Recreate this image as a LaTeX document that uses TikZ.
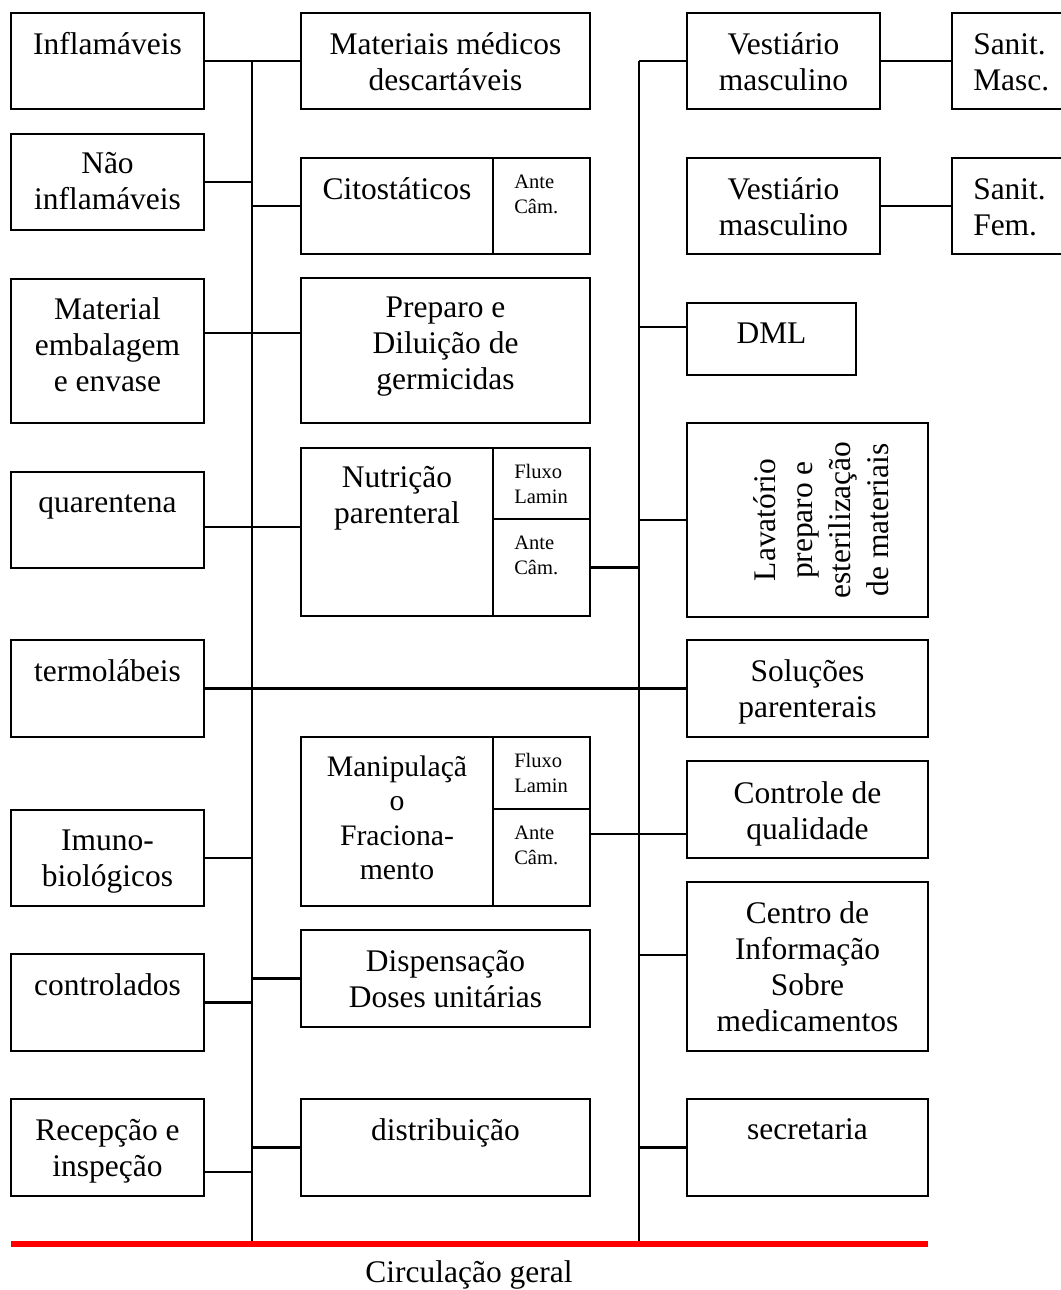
\documentclass[tikz,border=0pt]{standalone}
\usepackage{fontspec}
\setmainfont{Liberation Serif}
\usetikzlibrary{calc}

% one drawing unit = one pixel of the layout grid
\def\pxu{0.75pt}
% fixed first-line heights, so that every label hangs from its top edge
\newcommand\bigrule{\rule{0pt}{20pt}}    % 20pt = 26.67 units
\newcommand\smallrule{\rule{0pt}{13pt}}  % 13pt = 17.33 units

\tikzset{
  roombox/.style={draw=black, line width=1.4pt, inner sep=0pt, outer sep=0pt, fill=white},
  link/.style={line width=2.1pt, black},
  bigtext/.style={font=\fontsize{23.6pt}{27pt}\selectfont, align=center, anchor=north, inner sep=0pt},
  smalltext/.style={font=\fontsize{15.4pt}{18.75pt}\selectfont, align=left, anchor=north west, inner sep=0pt},
  circline/.style={line width=4.5pt, draw={rgb,255:red,255;green,0;blue,0}},
}

% \room{name}{x1}{y1}{x2}{y2}: a room drawn as a rectangle node
\newcommand\room[5]{%
  \node[roombox, minimum width={(#4-(#2))*\pxu}, minimum height={(#5-(#3))*\pxu}]
    (#1) at ({(#2+#4)/2},{(#3+#5)/2}) {};}
% \roomlabel{name}{box}{first baseline below top}{text}
\newcommand\roomlabel[4]{\node[bigtext] (#1) at ($(#2.north)+(0,#3-26.67)$) {\bigrule#4};}
% \celllabel{name}{box}{text}: small left-aligned text in a sub-cell
\newcommand\celllabel[3]{\node[smalltext] (#1) at ($(#2.north west)+(21,30-17.33)$) {\smallrule#3};}

\begin{document}
\begin{tikzpicture}[x=\pxu, y=-\pxu]
\useasboundingbox (0,0) rectangle (1061,1290);
\clip (0,0) rectangle (1061,1290);

% corridor trunks and the general circulation line
\coordinate (trunkLtop) at (252,61);
\coordinate (trunkRtop) at (639,61);
\coordinate (circW) at (11,1244);
\coordinate (circE) at (928,1244);

% ---------------- rooms ----------------
% left column
\room{infl}{11}{13}{204}{109}
\room{naoinf}{11}{134}{204}{230}
\room{embal}{11}{279}{204}{423}
\room{quar}{11}{472}{204}{568}
\room{termo}{11}{640}{204}{737}
\room{imuno}{11}{810}{204}{906}
\room{contr}{11}{954}{204}{1051}
\room{recep}{11}{1099}{204}{1196}
% middle column
\room{matmed}{301}{13}{590}{109}
\room{cito}{301}{158}{493}{254}
\room{citoAnte}{493}{158}{590}{254}
\room{prep}{301}{278}{590}{423}
\room{nutr}{301}{448}{493}{616}
\room{nutrFluxo}{493}{448}{590}{519}
\room{nutrAnte}{493}{519}{590}{616}
\room{manip}{301}{737}{493}{906}
\room{manipFluxo}{493}{737}{590}{809}
\room{manipAnte}{493}{809}{590}{906}
\room{disp}{301}{930}{590}{1027}
\room{distr}{301}{1099}{590}{1196}
% right column
\room{vestM}{687}{13}{880}{109}
\room{sanM}{952}{13}{1075}{109}
\room{vestF}{687}{158}{880}{254}
\room{sanF}{952}{158}{1075}{254}
\room{dml}{687}{303}{856}{375}
\room{lava}{687}{423}{928}{617}
\room{solu}{687}{640}{928}{737}
\room{ctrl}{687}{761}{928}{858}
\room{cim}{687}{882}{928}{1051}
\room{secr}{687}{1099}{928}{1196}

% link points that sit off the centre of a room side
\coordinate (embalLink) at (embal.east |- 0,333);
\coordinate (prepLink) at (prep.west |- 0,333);
\coordinate (quarLink) at (quar.east |- 0,527);
\coordinate (nutrLink) at (nutr.west |- 0,527);
\coordinate (recepLink) at (recep.east |- 0,1172);
\coordinate (dmlLink) at (dml.west |- 0,327);
\coordinate (manipLink) at (manipAnte.east |- 0,834);
\coordinate (ctrlLink) at (ctrl.west |- 0,834);
\coordinate (cimLink) at (cim.west |- 0,955);

% ---------------- connectors ----------------
\draw[link] (trunkLtop) -- (trunkLtop |- circW);
\draw[link] (trunkRtop) -- (trunkRtop |- circE);
\draw[link] (infl.east) -- (matmed.west);
\draw[link] (naoinf.east) -- (naoinf.east -| trunkLtop);
\draw[link] (cito.west) -- (cito.west -| trunkLtop);
\draw[link] (embalLink) -- (prepLink);
\draw[link] (quarLink) -- (nutrLink);
\draw[link] (termo.east) -- (solu.west);
\draw[link] (imuno.east) -- (imuno.east -| trunkLtop);
\draw[link] (contr.east) -- (contr.east -| trunkLtop);
\draw[link] (disp.west) -- (disp.west -| trunkLtop);
\draw[link] (distr.west) -- (distr.west -| trunkLtop);
\draw[link] (recepLink) -- (recepLink -| trunkLtop);
\draw[link] (vestM.west) -- (trunkRtop);
\draw[link] (vestM.east) -- (sanM.west);
\draw[link] (vestF.east) -- (sanF.west);
\draw[link] (dmlLink) -- (dmlLink -| trunkRtop);
\draw[link] (lava.west) -- (lava.west -| trunkRtop);
\draw[link] (nutrAnte.east) -- (nutrAnte.east -| trunkRtop);
\draw[link] (manipLink) -- (ctrlLink);
\draw[link] (cimLink) -- (cimLink -| trunkRtop);
\draw[link] (secr.west) -- (secr.west -| trunkRtop);

\draw[circline] (circW) -- (circE);

% ---------------- labels ----------------
\roomlabel{tInfl}{infl}{41}{Inflamáveis}
\roomlabel{tNaoinf}{naoinf}{39}{Não\\inflamáveis}
\roomlabel{tEmbal}{embal}{40}{Material\\embalagem\\e envase}
\roomlabel{tQuar}{quar}{40}{quarentena}
\roomlabel{tTermo}{termo}{41}{termolábeis}
\roomlabel{tImuno}{imuno}{40}{Imuno-\\biológicos}
\roomlabel{tContr}{contr}{41}{controlados}
\roomlabel{tRecep}{recep}{41}{Recepção e\\inspeção}

\roomlabel{tMatmed}{matmed}{41}{Materiais médicos\\descartáveis}
\roomlabel{tCito}{cito}{41}{Citostáticos}
\roomlabel{tPrep}{prep}{39}{Preparo e\\Diluição de\\germicidas}
\roomlabel{tNutr}{nutr}{39}{Nutrição\\parenteral}
\node[bigtext, font=\fontsize{22.3pt}{25.8pt}\selectfont] (tManip)
  at ($(manip.north)+(0,39-26.67)$) {\bigrule Manipulaçã\\o\\Fraciona-\\mento};
\roomlabel{tDisp}{disp}{41}{Dispensação\\Doses unitárias}
\roomlabel{tDistr}{distr}{41}{distribuição}

\celllabel{tCitoAnte}{citoAnte}{Ante\\Câm.}
\celllabel{tNutrFluxo}{nutrFluxo}{Fluxo\\Lamin}
\celllabel{tNutrAnte}{nutrAnte}{Ante\\Câm.}
\celllabel{tManipFluxo}{manipFluxo}{Fluxo\\Lamin}
\celllabel{tManipAnte}{manipAnte}{Ante\\Câm.}

\roomlabel{tVestM}{vestM}{41}{Vestiário\\masculino}
\roomlabel{tVestF}{vestF}{41}{Vestiário\\masculino}
\node[bigtext, anchor=north west, align=left] (tSanM)
  at ($(sanM.north west)+(21,41-26.67)$) {\bigrule Sanit.\\Masc.};
\node[bigtext, anchor=north west, align=left] (tSanF)
  at ($(sanF.north west)+(21,41-26.67)$) {\bigrule Sanit.\\Fem.};
\roomlabel{tDml}{dml}{40}{DML}
\node[bigtext, font=\fontsize{23.6pt}{28.2pt}\selectfont, rotate=90] (tLava)
  at (775-26.67,520) {\bigrule Lavatório\\preparo e\\esterilização\\de materiais};
\roomlabel{tSolu}{solu}{41}{Soluções\\parenterais}
\roomlabel{tCtrl}{ctrl}{42}{Controle de\\qualidade}
\roomlabel{tCim}{cim}{41}{Centro de\\Informação\\Sobre\\medicamentos}
\roomlabel{tSecr}{secr}{40}{secretaria}

\node[bigtext, anchor=base] (tCirc) at (469,1282) {Circulação geral};
\end{tikzpicture}
\end{document}
